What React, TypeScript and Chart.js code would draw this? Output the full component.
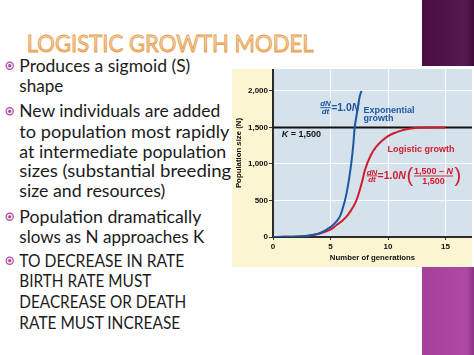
import React, { useEffect, useRef } from "react";
import { Chart, registerables } from "chart.js";

Chart.register(...registerables);

// ---------------- data ----------------
const expGenerations = [0, 1, 2, 3, 4, 5, 5.5, 5.8, 6, 6.4, 6.8, 7, 7.1, 7.25, 7.4, 7.55, 7.7];
const expPopulation = [0, 2, 6, 18, 50, 135, 210, 275, 360, 600, 1000, 1300, 1500, 1650, 1800, 1930, 2000];
const logGenerations = [0, 1, 2, 3, 4, 5, 5.5, 6, 6.5, 7, 7.25, 7.5, 7.75, 8, 8.5, 9, 9.5, 10, 10.5, 11, 12, 13, 14, 15];
const logPopulation = [0, 2, 5, 14, 45, 100, 160, 220, 300, 420, 500, 620, 760, 920, 1120, 1240, 1320, 1380, 1420, 1450, 1485, 1497, 1500, 1500];
const carryingCapacity = 1500;
const xTickValues = [0, 5, 10, 15];
const yTickValues = [0, 500, 1000, 1500, 2000];
const xAxisMax = 17.3;
const yAxisMax = 2300;

const titleText = "LOGISTIC GROWTH MODEL";
const bulletLines = [
  { text: "Produces a sigmoid (S)", bullet: true },
  { text: "shape", bullet: false },
  { text: "New individuals are added", bullet: true },
  { text: "to population most rapidly", bullet: false },
  { text: "at intermediate population", bullet: false },
  { text: "sizes (substantial breeding", bullet: false },
  { text: "size and resources)", bullet: false },
  { text: "Population dramatically", bullet: true },
  { text: "slows as N approaches K", bullet: false },
  { text: "TO DECREASE IN RATE", bullet: true },
  { text: "BIRTH RATE MUST", bullet: false },
  { text: "DEACREASE OR DEATH", bullet: false },
  { text: "RATE MUST INCREASE", bullet: false },
];

// layout (baseline y and rendered width of each line)
const lineBaselines = [71.7, 91.5, 117.3, 137.5, 157.5, 177, 197, 222.8, 243.3, 266.7, 287.3, 308.3, 329.3];
const lineWidths = [171, 44, 201, 210, 207, 212, 146, 182, 185, 165, 132, 167, 161];

const FONT = "'Liberation Sans', Arial, sans-serif";
const BLUE = "#1d57a3";
const RED = "#d21c2c";

function fraction(ctx: CanvasRenderingContext2D, x: number, midY: number, num: string, den: string, size: number) {
  ctx.font = `italic bold ${size}px ${FONT}`;
  const w = Math.max(ctx.measureText(num).width, ctx.measureText(den).width);
  ctx.textAlign = "center";
  ctx.textBaseline = "alphabetic";
  ctx.fillText(num, x + w / 2, midY - 1.3);
  ctx.fillRect(x, midY - 0.5, w, 0.9);
  ctx.fillText(den, x + w / 2, midY + size * 0.8);
  return w;
}

function eqRate(ctx: CanvasRenderingContext2D, x: number, midY: number, size: number) {
  ctx.textAlign = "left";
  ctx.textBaseline = "middle";
  ctx.font = `bold ${size}px ${FONT}`;
  ctx.fillText("=1.0", x, midY);
  x += ctx.measureText("=1.0").width;
  ctx.font = `italic bold ${size}px ${FONT}`;
  ctx.fillText("N", x, midY);
  return x + ctx.measureText("N").width;
}

const chartDecor = {
  id: "chartDecor",
  beforeDraw(chart: any) {
    const { ctx, chartArea } = chart;
    ctx.save();
    ctx.fillStyle = "#d5e1eb";
    ctx.fillRect(chartArea.left, chartArea.top, chartArea.right - chartArea.left, chartArea.bottom - chartArea.top);
    ctx.restore();
  },
  afterDraw(chart: any) {
    const { ctx } = chart;
    const X = (v: number) => chart.scales.x.getPixelForValue(v);
    const Y = (v: number) => chart.scales.y.getPixelForValue(v);
    ctx.save();

    // exponential equation
    ctx.fillStyle = BLUE;
    let x = X(4.1);
    let my = Y(1770);
    x += fraction(ctx, x, my, "dN", "dt", 8) + 0.3;
    eqRate(ctx, x, my, 10.5);
    ctx.font = `bold 9px ${FONT}`;
    ctx.textAlign = "left";
    ctx.textBaseline = "middle";
    ctx.fillText("Exponential", X(7.87), Y(1736));
    ctx.fillText("growth", X(7.87), Y(1622));

    // K label
    ctx.fillStyle = "#111";
    ctx.font = `italic bold 9px ${FONT}`;
    const kx = X(0.76);
    ctx.fillText("K", kx, Y(1406));
    const kw = ctx.measureText("K").width;
    ctx.font = `bold 9px ${FONT}`;
    ctx.fillText(" = 1,500", kx + kw, Y(1406));

    // logistic label
    ctx.fillStyle = RED;
    ctx.font = `bold 9px ${FONT}`;
    ctx.fillText("Logistic growth", X(9.96), Y(1192));

    // logistic equation
    x = X(8.14);
    my = Y(836);
    x += fraction(ctx, x, my, "dN", "dt", 8) + 0.3;
    x = eqRate(ctx, x, my, 10.5);
    ctx.font = `20px ${FONT}`;
    ctx.textAlign = "left";
    ctx.textBaseline = "middle";
    ctx.fillText("(", x + 0.5, my + 0.5);
    x += ctx.measureText("(").width + 1.5;
    ctx.font = `bold 9px ${FONT}`;
    const a = "1,500 \u2013 ";
    const aw = ctx.measureText(a).width;
    ctx.font = `italic bold 9px ${FONT}`;
    const nw = ctx.measureText("N").width;
    const numW = aw + nw;
    ctx.textBaseline = "alphabetic";
    ctx.font = `bold 9px ${FONT}`;
    ctx.fillText(a, x, my - 1.5);
    ctx.font = `italic bold 9px ${FONT}`;
    ctx.fillText("N", x + aw, my - 1.5);
    ctx.fillRect(x, my - 0.4, numW, 0.9);
    ctx.font = `bold 9px ${FONT}`;
    ctx.textAlign = "center";
    ctx.fillText("1,500", x + numW / 2, my + 8);
    ctx.font = `20px ${FONT}`;
    ctx.textAlign = "left";
    ctx.textBaseline = "middle";
    ctx.fillText(")", x + numW + 1.5, my + 0.5);

    ctx.restore();
  },
};

function ChartPanel() {
  const ref = useRef<HTMLCanvasElement | null>(null);
  useEffect(() => {
    if (!ref.current) return;
    const tickFont = { family: FONT, weight: "bold" as const, size: 8 };
    const titleFont = { family: FONT, weight: "bold" as const, size: 7.8 };
    const chart = new Chart(ref.current, {
      type: "line",
      data: {
        datasets: [
          {
            label: "Exponential growth",
            data: expGenerations.map((g, i) => ({ x: g, y: expPopulation[i] })),
            borderColor: BLUE,
            borderWidth: 2,
            pointRadius: 0,
            cubicInterpolationMode: "monotone",
          },
          {
            label: "Logistic growth",
            data: logGenerations.map((g, i) => ({ x: g, y: logPopulation[i] })),
            borderColor: RED,
            borderWidth: 2,
            pointRadius: 0,
            cubicInterpolationMode: "monotone",
          },
          {
            label: "K",
            data: [
              { x: 0, y: carryingCapacity },
              { x: xAxisMax, y: carryingCapacity },
            ],
            borderColor: "#111111",
            borderWidth: 2,
            pointRadius: 0,
          },
        ],
      },
      plugins: [chartDecor],
      options: {
        animation: false,
        responsive: false,
        devicePixelRatio: 1,
        layout: { padding: 0 },
        plugins: { legend: { display: false }, tooltip: { enabled: false } },
        scales: {
          x: {
            type: "linear",
            min: 0,
            max: xAxisMax,
            afterBuildTicks: (axis: any) => {
              axis.ticks = xTickValues.map((v) => ({ value: v }));
            },
            afterFit: (axis: any) => {
              axis.height = 30;
              axis.paddingLeft = 0;
              axis.paddingRight = 0;
            },
            grid: { color: "rgba(255,255,255,0.9)", lineWidth: 1, tickColor: "#333", tickLength: 3 },
            border: { color: "#2b2b2b", width: 2 },
            ticks: { font: tickFont, color: "#111", padding: 2, maxRotation: 0 },
            title: { display: true, text: "Number of generations", font: titleFont, color: "#111", padding: { top: 0, bottom: 4 } },
          },
          y: {
            type: "linear",
            min: 0,
            max: yAxisMax,
            afterBuildTicks: (axis: any) => {
              axis.ticks = yTickValues.map((v) => ({ value: v }));
            },
            afterFit: (axis: any) => {
              axis.width = 41;
              axis.paddingTop = 0;
              axis.paddingBottom = 0;
            },
            grid: { color: "rgba(255,255,255,0.9)", lineWidth: 1, tickColor: "#333", tickLength: 4 },
            border: { color: "#2b2b2b", width: 2 },
            ticks: {
              font: tickFont,
              color: "#111",
              padding: 1,
              callback: (v: any) => Number(v).toLocaleString("en-US"),
            },
            title: { display: true, text: "Population size (N)", font: titleFont, color: "#111", padding: { top: 2, bottom: 0 } },
          },
        },
      },
    });
    return () => chart.destroy();
  }, []);
  return (
    <canvas
      ref={ref}
      width={240}
      height={198}
      style={{ position: "absolute", left: 232, top: 69, width: 240, height: 198, background: "#fcf5d2" }}
    />
  );
}

export default function App() {
  return (
    <div style={{ position: "fixed", left: 0, top: 0, width: 474, height: 355, background: "#ffffff", overflow: "hidden" }}>
      <div
        style={{
          position: "absolute",
          left: 422,
          top: 0,
          width: 52,
          height: 66,
          background: "linear-gradient(to right, #4a0d42, #561a50 85%, #3e0a37)",
        }}
      />
      <div
        style={{
          position: "absolute",
          left: 422,
          top: 267,
          width: 52,
          height: 88,
          background: "linear-gradient(to right, #a3409b, #ad4aa4 85%, #8c3384)",
        }}
      />
      <svg width={474} height={355} style={{ position: "absolute", left: 0, top: 0 }}>
        <defs>
          <linearGradient id="titleGrad" x1="0" y1="0" x2="0" y2="1">
            <stop offset="0" stopColor="#fde7c4" />
            <stop offset="1" stopColor="#f1b466" />
          </linearGradient>
        </defs>
        <text
          x={26.7}
          y={51.7}
          textLength={287}
          lengthAdjust="spacingAndGlyphs"
          fontFamily="Lato, 'Open Sans', sans-serif"
          fontSize={24}
          fill="url(#titleGrad)"
          stroke="#e39a4b"
          strokeWidth={0.8}
        >
          {titleText}
        </text>
        {bulletLines.map((ln, i) => (
          <g key={i}>
            {ln.bullet && (
              <g>
                <circle cx={9.7} cy={lineBaselines[i] - 6} r={3.6} fill="#fbe9f6" stroke="#b2479f" strokeWidth={1.2} />
                <circle cx={9.7} cy={lineBaselines[i] - 6} r={1.6} fill="#b2479f" />
              </g>
            )}
            <text
              x={19.3}
              y={lineBaselines[i]}
              textLength={lineWidths[i]}
              lengthAdjust="spacingAndGlyphs"
              fontFamily="Lato, 'Open Sans', sans-serif"
              fontSize={17}
              fill="#1b1b1b"
            >
              {ln.text}
            </text>
          </g>
        ))}
      </svg>
      <ChartPanel />
    </div>
  );
}
